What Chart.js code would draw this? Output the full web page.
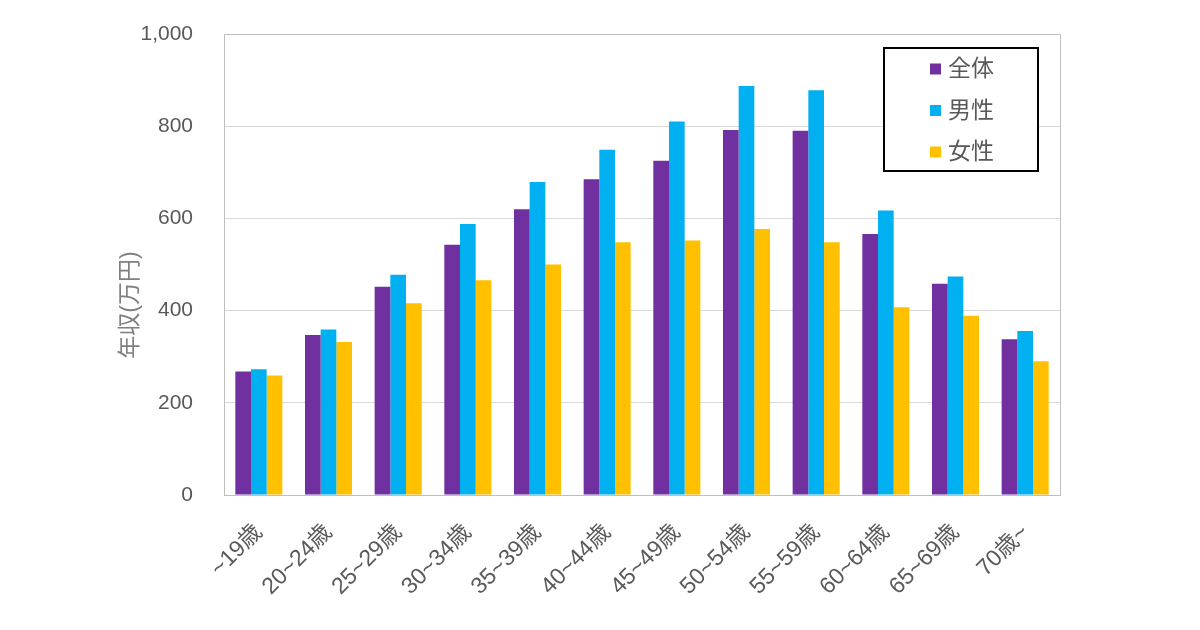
<!DOCTYPE html>
<html>
<head>
<meta charset="utf-8">
<script src="https://cdn.jsdelivr.net/npm/chart.js@4"></script>
<style>
  html, body { margin: 0; padding: 0; background: #fff; }
  #wrap { width: 1200px; height: 630px; }
</style>
</head>
<body>
<div id="wrap"><canvas id="income-chart" width="1200" height="630"></canvas></div>
<script>
const labels = [
  "~19歳", "20~24歳", "25~29歳", "30~34歳", "35~39歳", "40~44歳",
  "45~49歳", "50~54歳", "55~59歳", "60~64歳", "65~69歳", "70歳~",
];

const seriesNames = ["全体", "男性", "女性"];

const totalValues = [268, 347, 452, 543, 620, 685, 725, 792, 790, 566, 458, 338];
const maleValues = [273, 359, 478, 588, 679, 749, 810, 887, 878, 617, 474, 356];
const femaleValues = [259, 332, 416, 466, 500, 548, 552, 577, 548, 407, 389, 290];

const yTicks = [0, 200, 400, 600, 800, 1000];

const colors = {
  total: "#7030A0",
  male: "#00B0F0",
  female: "#FFC000",
  text: "#595959",
  grid: "#d9d9d9",
  border: "#bfbfbf",
};

const fontFamily = "'Liberation Sans', Arial, 'Noto Sans CJK JP', sans-serif";

// plot frame, y axis title and boxed legend
const decorPlugin = {
  id: "decor",
  afterDraw(chart) {
    const { ctx, chartArea: a } = chart;
    ctx.save();
    ctx.strokeStyle = colors.border;
    ctx.lineWidth = 1;
    ctx.strokeRect(Math.round(a.left) + 0.5, Math.round(a.top) + 0.5,
      Math.round(a.right - a.left), Math.round(a.bottom - a.top));

    // y axis title
    ctx.translate(131, 305);
    ctx.rotate(-Math.PI / 2);
    ctx.fillStyle = "#808080";
    ctx.font = "23px " + fontFamily;
    ctx.textAlign = "center";
    ctx.textBaseline = "middle";
    ctx.fillText("年収(万円)", 0, 0);
    ctx.restore();

    // legend
    ctx.save();
    ctx.fillStyle = "#fff";
    ctx.fillRect(884, 48, 154, 123);
    ctx.strokeStyle = "#000";
    ctx.lineWidth = 2;
    ctx.strokeRect(884, 48, 154, 123);
    ctx.font = "23px " + fontFamily;
    ctx.textBaseline = "middle";
    ctx.textAlign = "left";
    chart.data.datasets.forEach((ds, i) => {
      const cy = 69 + i * 41.5;
      ctx.fillStyle = ds.backgroundColor;
      ctx.fillRect(930, cy - 5.5, 11, 11);
      ctx.fillStyle = colors.text;
      ctx.fillText(ds.label, 948, cy + 1);
    });
    ctx.restore();
  },
};

const ctx = document.getElementById("income-chart").getContext("2d");

new Chart(ctx, {
  type: "bar",
  data: {
    labels,
    datasets: [
      { label: seriesNames[0], data: totalValues, backgroundColor: colors.total },
      { label: seriesNames[1], data: maleValues, backgroundColor: colors.male },
      { label: seriesNames[2], data: femaleValues, backgroundColor: colors.female },
    ],
  },
  options: {
    responsive: false,
    animation: false,
    layout: {
      padding: { top: 34, right: 140, bottom: 0, left: 0 },
    },
    datasets: {
      bar: {
        categoryPercentage: 0.675,
        barPercentage: 1.0,
      },
    },
    plugins: {
      legend: { display: false },
      tooltip: { enabled: false },
    },
    scales: {
      x: {
        grid: { display: false, drawTicks: false },
        border: { color: colors.border },
        afterFit: (scale) => {
          scale.height = 135;
        },
        ticks: {
          color: colors.text,
          minRotation: 45,
          maxRotation: 45,
          padding: 24,
          autoSkip: false,
          font: { size: 23, family: fontFamily },
        },
      },
      y: {
        min: 0,
        max: 1000,
        afterFit: (scale) => {
          // tick padding also pads top/bottom, which would shrink the plot
          scale.width = 224;
          scale.paddingTop = 0;
          scale.paddingBottom = 0;
        },
        afterBuildTicks: (scale) => {
          scale.ticks = yTicks.map((v) => ({ value: v }));
        },
        grid: { color: colors.grid, drawTicks: false },
        border: { color: colors.border },
        ticks: {
          color: colors.text,
          padding: 31,
          font: { size: 21, family: fontFamily },
          callback: (v) => v.toLocaleString("en-US"),
        },
      },
    },
  },
  plugins: [decorPlugin],
});
</script>
</body>
</html>
